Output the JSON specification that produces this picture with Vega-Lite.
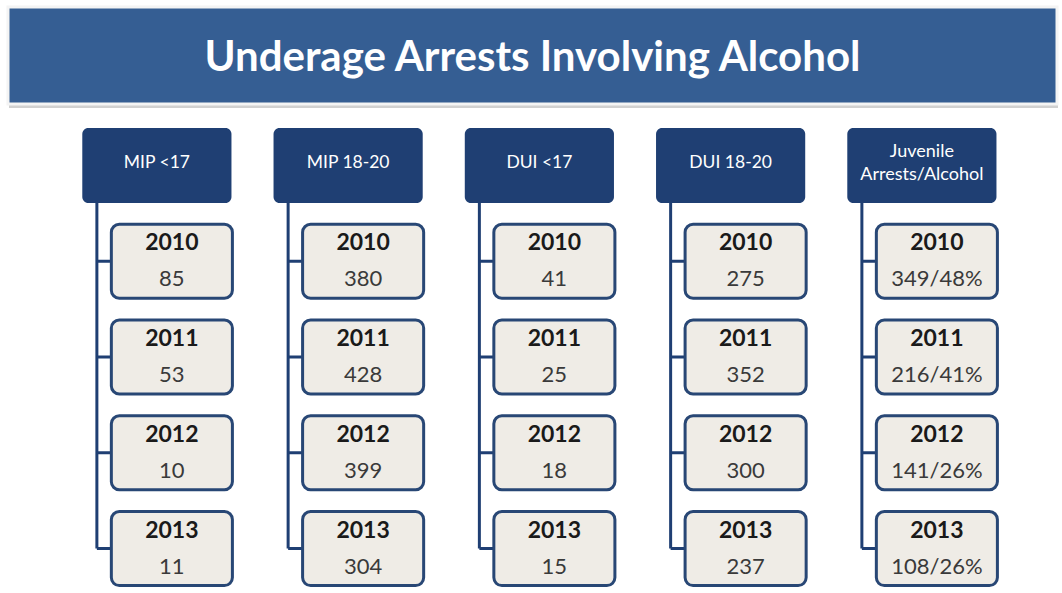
{
  "$schema": "https://vega.github.io/schema/vega-lite/v6.json",
  "width": 1062,
  "height": 593,
  "autosize": {"type": "fit", "contains": "padding"},
  "padding": 0,
  "background": "white",
  "config": {"view": {"stroke": null}, "text": {"font": "Lato"}},
  "datasets": {
    "banner": [{"row": "banner", "title": "Underage Arrests Involving Alcohol"}],
    "headers": [
      {"col": "MIP <17", "label": "MIP <17"},
      {"col": "MIP 18-20", "label": "MIP 18-20"},
      {"col": "DUI <17", "label": "DUI <17"},
      {"col": "DUI 18-20", "label": "DUI 18-20"},
      {"col": "Juvenile Arrests/Alcohol", "label": "Juvenile\nArrests/Alcohol"}
    ],
    "boxes": [
      {"col": "MIP <17", "year": "2010", "value": "85"},
      {"col": "MIP <17", "year": "2011", "value": "53"},
      {"col": "MIP <17", "year": "2012", "value": "10"},
      {"col": "MIP <17", "year": "2013", "value": "11"},
      {"col": "MIP 18-20", "year": "2010", "value": "380"},
      {"col": "MIP 18-20", "year": "2011", "value": "428"},
      {"col": "MIP 18-20", "year": "2012", "value": "399"},
      {"col": "MIP 18-20", "year": "2013", "value": "304"},
      {"col": "DUI <17", "year": "2010", "value": "41"},
      {"col": "DUI <17", "year": "2011", "value": "25"},
      {"col": "DUI <17", "year": "2012", "value": "18"},
      {"col": "DUI <17", "year": "2013", "value": "15"},
      {"col": "DUI 18-20", "year": "2010", "value": "275"},
      {"col": "DUI 18-20", "year": "2011", "value": "352"},
      {"col": "DUI 18-20", "year": "2012", "value": "300"},
      {"col": "DUI 18-20", "year": "2013", "value": "237"},
      {"col": "Juvenile Arrests/Alcohol", "year": "2010", "value": "349/48%"},
      {"col": "Juvenile Arrests/Alcohol", "year": "2011", "value": "216/41%"},
      {"col": "Juvenile Arrests/Alcohol", "year": "2012", "value": "141/26%"},
      {"col": "Juvenile Arrests/Alcohol", "year": "2013", "value": "108/26%"}
    ]
  },
  "resolve": {"scale": {"x": "independent", "y": "independent"}},
  "layer": [
    {
      "data": {"name": "banner"},
      "encoding": {
        "x": {"field": "row", "type": "nominal", "axis": null, "scale": {"domain": ["banner"], "range": [8, 1057], "paddingInner": 0, "paddingOuter": 0}},
        "y": {"field": "row", "type": "nominal", "axis": null, "scale": {"domain": ["banner"], "range": [7, 104], "paddingInner": 0, "paddingOuter": 0}}
      },
      "layer": [
        {"mark": {"type": "rect", "fill": "#c4c4c4", "yOffset": 4, "xOffset": 1, "opacity": 0.8}},
        {"mark": {"type": "rect", "fill": "#355E93", "stroke": "#f4f4f4", "strokeWidth": 3}},
        {"mark": {"type": "text", "color": "#ffffff", "fontSize": 42, "fontWeight": "bold", "baseline": "middle", "dy": 2}, "encoding": {"text": {"field": "title"}}}
      ]
    },
    {
      "layer": [
        {
          "data": {"name": "headers"},
          "mark": {"type": "rule", "color": "#1F3F73", "strokeWidth": 3, "xOffset": -60},
          "encoding": {
            "x": {"field": "col", "type": "nominal", "axis": null, "sort": null, "scale": {"range": [61.25, 1017.5], "paddingInner": 0, "paddingOuter": 0}},
            "y": {"datum": "header", "type": "nominal", "axis": null, "scale": {"domain": ["header", "2010", "2011", "2012", "2013"], "range": [117.6, 596.4], "paddingInner": 0, "paddingOuter": 0}},
            "y2": {"datum": "2013"}
          }
        },
        {
          "data": {"name": "boxes"},
          "mark": {"type": "rule", "color": "#1F3F73", "strokeWidth": 3, "xOffset": -60, "x2Offset": 15},
          "encoding": {
            "x": {"field": "col", "type": "nominal", "axis": null, "sort": null},
            "x2": {"field": "col"},
            "y": {"field": "year", "type": "nominal", "axis": null}
          }
        },
        {
          "data": {"name": "headers"},
          "mark": {"type": "rect", "fill": "#1F3F73", "cornerRadius": 6, "width": {"band": 0.78}, "height": {"band": 0.783}},
          "encoding": {
            "x": {"field": "col", "type": "nominal", "axis": null, "sort": null},
            "y": {"datum": "header", "type": "nominal", "axis": null}
          }
        },
        {
          "data": {"name": "headers"},
          "transform": [{"filter": "indexof(datum.label, '\\n') < 0"}],
          "mark": {"type": "text", "color": "#ffffff", "fontSize": 17.5, "baseline": "middle", "dy": -2},
          "encoding": {
            "x": {"field": "col", "type": "nominal", "axis": null, "sort": null},
            "y": {"datum": "header", "type": "nominal", "axis": null},
            "text": {"field": "label"}
          }
        },
        {
          "data": {"name": "headers"},
          "transform": [{"filter": "indexof(datum.label, '\\n') >= 0"}],
          "mark": {"type": "text", "color": "#ffffff", "fontSize": 18, "lineBreak": "\n", "lineHeight": 23, "baseline": "middle", "dy": -13},
          "encoding": {
            "x": {"field": "col", "type": "nominal", "axis": null, "sort": null},
            "y": {"datum": "header", "type": "nominal", "axis": null},
            "text": {"field": "label"}
          }
        },
        {
          "data": {"name": "boxes"},
          "mark": {"type": "rect", "fill": "#EFECE6", "stroke": "#284775", "strokeWidth": 3, "cornerRadius": 8, "width": {"band": 0.633}, "height": {"band": 0.773}, "xOffset": 15},
          "encoding": {
            "x": {"field": "col", "type": "nominal", "axis": null, "sort": null},
            "y": {"field": "year", "type": "nominal", "axis": null}
          }
        },
        {
          "data": {"name": "boxes"},
          "mark": {"type": "text", "color": "#1a1a1a", "fontSize": 23, "fontWeight": "bold", "baseline": "middle", "xOffset": 15, "yOffset": -18},
          "encoding": {
            "x": {"field": "col", "type": "nominal", "axis": null, "sort": null},
            "y": {"field": "year", "type": "nominal", "axis": null},
            "text": {"field": "year"}
          }
        },
        {
          "data": {"name": "boxes"},
          "mark": {"type": "text", "color": "#3a3a3a", "fontSize": 22, "baseline": "middle", "xOffset": 15, "yOffset": 18},
          "encoding": {
            "x": {"field": "col", "type": "nominal", "axis": null, "sort": null},
            "y": {"field": "year", "type": "nominal", "axis": null},
            "text": {"field": "value"}
          }
        }
      ]
    }
  ]
}
